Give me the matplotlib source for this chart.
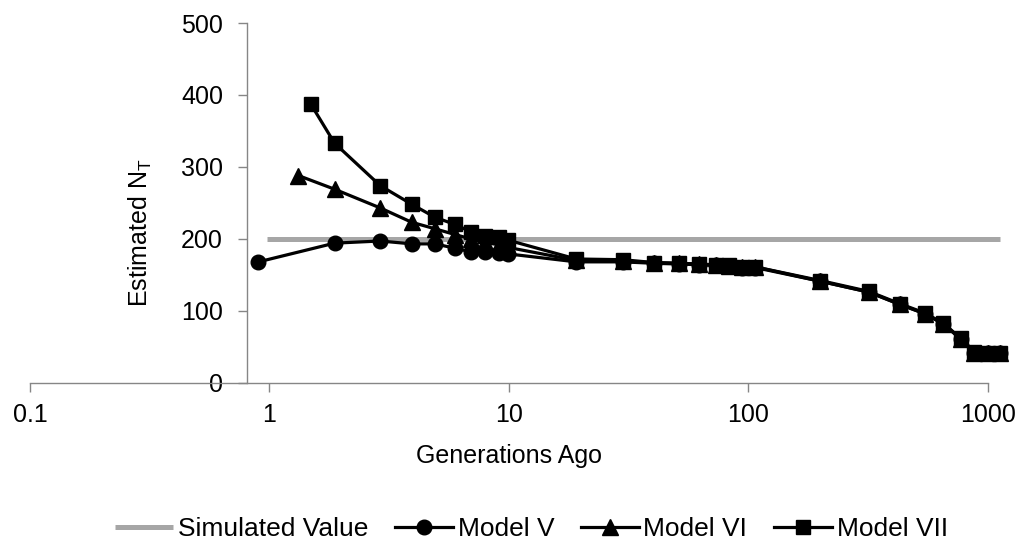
import matplotlib
matplotlib.use("Agg")
import matplotlib.pyplot as plt
from matplotlib.ticker import FixedLocator, FixedFormatter, NullLocator

plt.rcParams["font.family"] = ["Liberation Sans", "DejaVu Sans"]
plt.rcParams["mathtext.fontset"] = "custom"
plt.rcParams["mathtext.rm"] = "Liberation Sans"
plt.rcParams["mathtext.it"] = "Liberation Sans:italic"

# Generations ago (x) and estimated N_T (y) for each model
gen_v = [0.9, 1.87, 2.9, 3.93, 4.91, 5.95, 6.92, 7.94, 9.05, 9.96,
         19.1, 29.9, 40.4, 51.3, 62.3, 73, 83, 94.3, 107,
         200, 318, 428, 545, 650, 770, 880, 1000, 1128]
est_v = [168, 194, 197, 193, 193, 187, 182, 182, 181, 179,
         168, 168, 166, 165, 164, 163, 162, 160, 160,
         141, 126, 109, 96, 82, 61, 42, 41, 41]

gen_vi = [1.32, 1.87, 2.9, 3.93, 4.91, 5.95, 6.92, 7.94, 9.05, 9.96,
          19.1, 29.9, 40.4, 51.3, 62.3, 73, 83, 94.3, 107,
          200, 318, 428, 545, 650, 770, 880, 1000, 1128]
est_vi = [288, 269, 243, 223, 214, 206, 200, 195, 192, 188,
          170, 169, 167, 166, 165, 163, 162, 161, 161,
          141, 126, 109, 96, 82, 61, 42, 41, 41]

gen_vii = [1.49, 1.87, 2.9, 3.93, 4.91, 5.95, 6.92, 7.94, 9.05, 9.96,
           19.1, 29.9, 40.4, 51.3, 62.3, 73, 83, 94.3, 107,
           200, 318, 428, 545, 650, 770, 880, 1000, 1128]
est_vii = [387, 333, 274, 248, 230, 220, 210, 204, 202, 198,
           172, 171, 167, 166, 165, 164, 163, 161, 161,
           142, 127, 110, 97, 83, 62, 43, 41, 42]

# Simulated (true) value
sim_gen = [0.98, 1128]
sim_val = [200, 200]

x_ticks = [0.1, 1, 10, 100, 1000]
x_tick_labels = ["0.1", "1", "10", "100", "1000"]
y_ticks = [0, 100, 200, 300, 400, 500]

axis_color = "#868686"
fs = 18

fig = plt.figure(figsize=(10.36, 5.48), dpi=100)
ax = fig.add_axes([0.02896, 0.3016, 0.9245, 0.6564])

ax.plot(sim_gen, sim_val, color="#a6a6a6", lw=3.6, solid_capstyle="butt",
        label="Simulated Value", clip_on=False, zorder=2)
ax.plot(gen_v, est_v, color="black", lw=2.3, marker="o", ms=10.5,
        label="Model V", clip_on=False, zorder=3)
ax.plot(gen_vi, est_vi, color="black", lw=2.3, marker="^", ms=11,
        label="Model VI", clip_on=False, zorder=4)
ax.plot(gen_vii, est_vii, color="black", lw=2.3, marker="s", ms=10,
        label="Model VII", clip_on=False, zorder=5)

ax.set_xscale("log")
ax.set_xlim(0.1, 1000)
ax.set_ylim(0, 500)
ax.xaxis.set_major_locator(FixedLocator(x_ticks))
ax.xaxis.set_major_formatter(FixedFormatter(x_tick_labels))
ax.xaxis.set_minor_locator(NullLocator())
ax.yaxis.set_major_locator(FixedLocator(y_ticks))

for side in ("top", "right"):
    ax.spines[side].set_visible(False)
ax.spines["left"].set_position(("data", 0.803))
for side in ("left", "bottom"):
    ax.spines[side].set_color(axis_color)
    ax.spines[side].set_linewidth(1.0)

ax.tick_params(axis="both", which="major", direction="out", length=6.5,
               width=1.0, color=axis_color, labelsize=fs, labelcolor="black")
ax.tick_params(axis="y", pad=10.5)
ax.tick_params(axis="x", pad=8)

ax.set_xlabel("Generations Ago", fontsize=fs)
ax.xaxis.set_label_coords(0.5, -0.203)
ax.xaxis.label.set_va("center")

ax.set_ylabel(r"Estimated N$_\mathrm{T}$", fontsize=fs)
ax.yaxis.set_label_coords(0.1149, 0.417)
ax.yaxis.label.set_va("center")

fig.legend(loc="center", bbox_to_anchor=(0.513, 0.034), ncol=4,
           frameon=False, fontsize=19, handlelength=2.2,
           handletextpad=0.18, columnspacing=1.0, borderaxespad=0)

ax.set_facecolor("white")
fig.savefig("out.png", dpi=100, facecolor="white")
